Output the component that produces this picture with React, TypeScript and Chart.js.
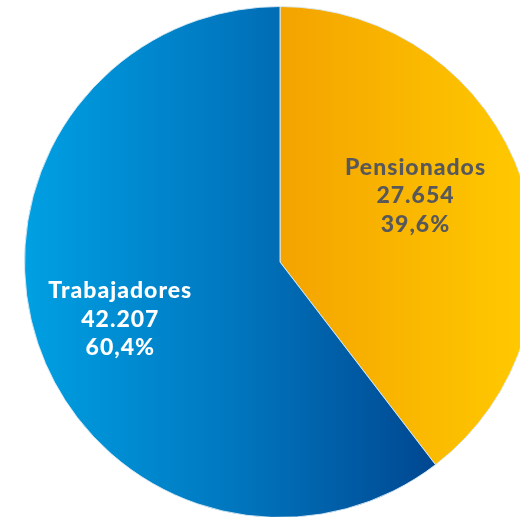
import React, { useEffect, useRef } from "react";
import { Chart, registerables } from "chart.js";

Chart.register(...registerables);

const categories = ["Pensionados", "Trabajadores"];
const values = [27654, 42207];
const valueLabels = ["27.654", "42.207"];
const percentLabels = ["39,6%", "60,4%"];
const textColors = ["#58585a", "#ffffff"];

const labelPlugin = {
  id: "sliceLabels",
  afterDatasetsDraw(chart: any) {
    const ctx = chart.ctx;
    const meta = chart.getDatasetMeta(0);
    const tweaks = [
      { dist: 0.56, dy: -20 },
      { dist: 0.66, dy: 3 },
    ];
    meta.data.forEach((arc: any, i: number) => {
      const { x, y, startAngle, endAngle, outerRadius } = arc.getProps(
        ["x", "y", "startAngle", "endAngle", "outerRadius"],
        true
      );
      const mid = (startAngle + endAngle) / 2;
      const d = outerRadius * tweaks[i].dist;
      const cx = x + Math.cos(mid) * d;
      const cy = y + Math.sin(mid) * d + tweaks[i].dy;
      ctx.save();
      ctx.fillStyle = textColors[i];
      ctx.font = "900 23px Lato, 'DejaVu Sans', sans-serif";
      (ctx as any).letterSpacing = "1px";
      ctx.textAlign = "center";
      ctx.textBaseline = "middle";
      const lines = [categories[i], valueLabels[i], percentLabels[i]];
      lines.forEach((t, k) => ctx.fillText(t, cx, cy + (k - 1) * 28.5));
      ctx.restore();
    });
  },
};

export default function App() {
  const ref = useRef<HTMLCanvasElement>(null);
  useEffect(() => {
    if (!ref.current) return;
    const chart = new Chart(ref.current, {
      type: "pie",
      data: {
        labels: categories,
        datasets: [
          {
            data: values,
            backgroundColor: (c: any) => {
              const chart = c.chart;
              const area = chart.chartArea;
              if (!area) return c.dataIndex === 0 ? "#f9b800" : "#0077c0";
              const g2 = chart.ctx;
              const cx = (area.left + area.right) / 2;
              if (c.dataIndex === 0) {
                const g = g2.createLinearGradient(cx, 0, area.right - 10, 0);
                g.addColorStop(0, "#f4a300");
                g.addColorStop(1, "#ffc900");
                return g;
              }
              const g = g2.createLinearGradient(area.left, 0, cx + 160, 0);
              g.addColorStop(0, "#00a0e3");
              g.addColorStop(0.5, "#0077bf");
              g.addColorStop(1, "#004690");
              return g;
            },
            borderColor: "rgba(220,235,245,0.9)",
            borderWidth: 1,
          },
        ],
      },
      options: {
        responsive: false,
        animation: false,
        layout: { padding: { left: 24, top: 6, right: 24, bottom: 22 } },
        plugins: {
          legend: { display: false },
          tooltip: { enabled: false },
        },
      },
      plugins: [labelPlugin],
    });
    return () => chart.destroy();
  }, []);
  return (
    <div
      style={{
        position: "fixed",
        left: 0,
        top: 0,
        width: 520,
        height: 517,
        overflow: "hidden",
        background: "#ffffff",
      }}
    >
      <canvas ref={ref} width={560} height={540} style={{ display: "block" }} />
    </div>
  );
}
